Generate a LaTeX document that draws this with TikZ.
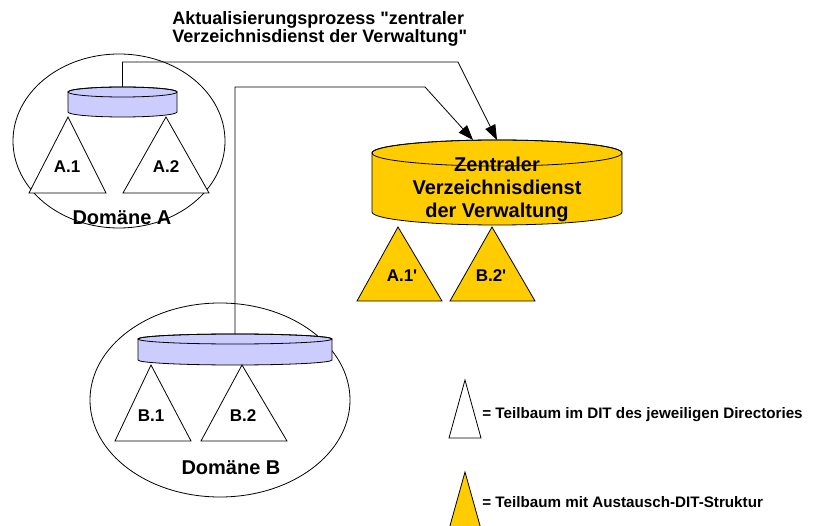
\documentclass[tikz,border=0pt]{standalone}
\usepackage{fontspec}
\setmainfont{Liberation Sans}[Ligatures=TeXOff]
\usetikzlibrary{shapes.geometric,arrows.meta}

\definecolor{dbyellow}{HTML}{FFCC00}
\definecolor{dblilac}{HTML}{CCCCFF}

% cylinder: name, x, y of top ellipse, x radius, y radius, body height, fill
\newcommand{\dbcyl}[7]{%
  \filldraw[fill=#7] (#2-#4,#3) -- (#2-#4,#3-#6)
    arc[start angle=180, end angle=360, x radius=#4, y radius=#5]
    -- (#2+#4,#3) arc[start angle=0, end angle=180, x radius=#4, y radius=#5] -- cycle;
  \draw (#2,#3) ellipse [x radius=#4, y radius=#5];
  \coordinate (#1) at (#2,#3+#5);
}

\tikzset{
  domaene/.style={ellipse, draw, inner sep=0pt},
  tree/.style={draw, fill=white},
  treeX/.style={draw, fill=dbyellow},
  lbl/.style={anchor=base, inner sep=0pt, font=\bfseries\fontsize{17}{20}\selectfont},
  domlbl/.style={anchor=base, inner sep=0pt, font=\bfseries\fontsize{20}{23}\selectfont},
  titel/.style={anchor=base west, inner sep=0pt, align=left, font=\bfseries\fontsize{18}{18}\selectfont},
  legend/.style={anchor=base west, inner sep=0pt, font=\bfseries\fontsize{15.2}{18}\selectfont},
  flow/.style={-{Triangle[length=15pt,width=11pt]}},
}

\begin{document}
\begin{tikzpicture}[x=1pt,y=1pt,line width=0.8pt]
  \clip (0,0) rectangle (814,-526);

  % Domaene A
  \node[domaene, minimum width=212pt, minimum height=174pt] (domA) at (119,-141) {};
  \dbcyl{dbA}{122.5}{-92}{54.5}{5}{20}{dblilac}
  \draw[tree] (29,-193) -- (68,-117) -- (106,-193) -- cycle;
  \draw[tree] (123,-193) -- (166,-117) -- (209,-193) -- cycle;
  \node[lbl] (a1) at (67,-173) {A.1};
  \node[lbl] (a2) at (166,-173) {A.2};
  \node[domlbl] (labA) at (122,-225) {Domäne A};

  % Domaene B
  \node[domaene, minimum width=260pt, minimum height=194pt] (domB) at (220,-400) {};
  \dbcyl{dbB}{235}{-339}{97}{5}{21}{dblilac}
  \draw[tree] (115,-441) -- (151,-365) -- (191,-441) -- cycle;
  \draw[tree] (201,-441) -- (242,-365) -- (287,-441) -- cycle;
  \node[lbl] (b1) at (151,-421) {B.1};
  \node[lbl] (b2) at (243,-421) {B.2};
  \node[domlbl] (labB) at (231,-475) {Domäne B};

  % zentraler Verzeichnisdienst
  \dbcyl{dbZ}{497}{-153}{125}{13}{59}{dbyellow}
  \node[domlbl, align=center] (zvd) at (497,-218)
    {Zentraler\\Verzeichnisdienst\\der Verwaltung};
  \draw[treeX] (357,-301) -- (398,-227) -- (442,-301) -- cycle;
  \draw[treeX] (450,-301) -- (492,-227) -- (535,-301) -- cycle;
  \node[lbl] (a1x) at (402,-282) {A.1'};
  \node[lbl] (b2x) at (491,-282) {B.2'};

  % Aktualisierung
  \node[titel] (title) at (172,-43)
    {Aktualisierungsprozess "zentraler\\Verzeichnisdienst der Verwaltung"};
  \draw[flow] (dbA) |- (458,-62) -- (dbZ);
  \draw[flow] (dbB) |- (425,-87) -- ([xshift=-24pt]dbZ);

  % Legende
  \draw[tree] (449,-438) -- (465,-380) -- (481,-438) -- cycle;
  \node[legend] (leg1) at (482,-418) {= Teilbaum im DIT des jeweiligen Directories};
  \draw[treeX] (446,-540) -- (465,-472) -- (484,-540) -- cycle;
  \node[legend] (leg2) at (482,-507) {= Teilbaum mit Austausch-DIT-Struktur};
\end{tikzpicture}
\end{document}
